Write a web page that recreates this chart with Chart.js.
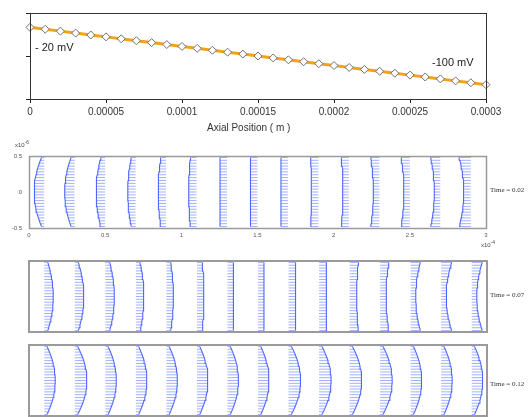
<!DOCTYPE html>
<html>
<head>
<meta charset="utf-8">
<script src="https://cdn.jsdelivr.net/npm/chart.js@4.4.1/dist/chart.umd.min.js"></script>
<style>
  body { margin: 0; width: 530px; height: 417px; overflow: hidden; background: #fff; position: relative;
         font-family: "Liberation Sans", Arial, sans-serif; }
  canvas { position: absolute; left: 0; }
  .lbl { position: absolute; white-space: nowrap; color: #222; line-height: 1; }
  .time { position: absolute; left: 490px; white-space: nowrap; line-height: 1; color: #333;
          font: 7px "Liberation Serif", serif; }
  sup { font-size: 0.8em; vertical-align: 0.6em; line-height: 0; }
</style>
</head>
<body>
<canvas id="potChart" width="530" height="140" style="top:0"></canvas>
<canvas id="q1" width="530" height="110" style="top:140px"></canvas>
<canvas id="q2" width="530" height="85" style="top:250px"></canvas>
<canvas id="q3" width="530" height="82" style="top:335px"></canvas>

<div class="lbl" style="left:35px;top:42px;font-size:11px">- 20 mV</div>
<div class="lbl" style="left:432px;top:57px;font-size:11px">-100 mV</div>
<div class="lbl" style="left:207px;top:123px;font-size:10px;color:#333">Axial Position ( m )</div>
<div class="lbl" style="left:15px;top:142px;font-size:6px;color:#444">x10<sup>-6</sup></div>
<div class="lbl" style="left:481px;top:242px;font-size:6px;color:#444">x10<sup>-4</sup></div>
<div class="time" style="top:186px">Time = 0.02</div>
<div class="time" style="top:291px">Time = 0.07</div>
<div class="time" style="top:380px">Time = 0.12</div>

<script>
// potential along the channel
const axialPos = [0, 0.00001, 0.00002, 0.00003, 0.00004, 0.00005, 0.00006, 0.00007, 0.00008, 0.00009,
  0.0001, 0.00011, 0.00012, 0.00013, 0.00014, 0.00015, 0.00016, 0.00017, 0.00018, 0.00019,
  0.0002, 0.00021, 0.00022, 0.00023, 0.00024, 0.00025, 0.00026, 0.00027, 0.00028, 0.00029, 0.0003];
const potential = [-20, -22.7, -25.3, -28, -30.7, -33.3, -36, -38.7, -41.3, -44,
  -46.7, -49.3, -52, -54.7, -57.3, -60, -62.7, -65.3, -68, -70.7,
  -73.3, -76, -78.7, -81.3, -84, -86.7, -89.3, -92, -94.7, -97.3, -100];
const potTicks = [0, 0.00005, 0.0001, 0.00015, 0.0002, 0.00025, 0.0003];

// velocity field: grid columns (x10^-4 m) and rows (x10^-6 m)
const columnX = [0.1, 0.3, 0.5, 0.7, 0.9, 1.1, 1.3, 1.5, 1.7, 1.9, 2.1, 2.3, 2.5, 2.7, 2.9];
const rowY = [-0.48, -0.44, -0.40, -0.36, -0.32, -0.28, -0.24, -0.20, -0.16, -0.12, -0.08, -0.04, 0,
  0.04, 0.08, 0.12, 0.16, 0.20, 0.24, 0.28, 0.32, 0.36, 0.40, 0.44, 0.48];
const rowShape = [0.08, 0.23, 0.36, 0.48, 0.59, 0.69, 0.77, 0.84, 0.90, 0.94, 0.97, 0.99, 1,
  0.99, 0.97, 0.94, 0.90, 0.84, 0.77, 0.69, 0.59, 0.48, 0.36, 0.23, 0.08];

// arrow length on the centre line and at the wall, per column
const centreT002 = [-0.066, -0.066, -0.059, -0.052, -0.052, -0.052, -0.046, -0.046, -0.046, -0.046, -0.039, -0.039, -0.039, -0.039, -0.046];
const wallT002   = [-0.013, -0.020, -0.026, -0.026, -0.033, -0.039, -0.046, -0.046, -0.046, -0.052, -0.052, -0.059, -0.059, -0.066, -0.079];
const centreT007 = [0.059, 0.059, 0.059, 0.052, 0.046, 0.046, 0.039, 0.039, 0.046, 0.046, 0.046, 0.039, 0.033, 0.033, 0.033];
const wallT007   = [0.020, 0.020, 0.026, 0.026, 0.026, 0.033, 0.039, 0.039, 0.046, 0.052, 0.059, 0.059, 0.066, 0.072, 0.072];
const centreT012 = [0.072, 0.079, 0.072, 0.072, 0.072, 0.072, 0.072, 0.072, 0.079, 0.079, 0.079, 0.079, 0.072, 0.072, 0.072];
const wallT012   = [0.013, 0.013, 0.013, 0.013, 0.013, 0.013, 0.013, 0.013, 0.013, 0.013, 0.013, 0.013, 0.013, 0.013, 0.013];

const qxTicks = [0, 0.5, 1, 1.5, 2, 2.5, 3];
const qyTicks = [-0.5, 0, 0.5];

// box round the plot area
const framePlugin = {
  id: "frame",
  afterDatasetsDraw(chart, args, opts) {
    const a = chart.chartArea, ctx = chart.ctx;
    ctx.save();
    ctx.strokeStyle = opts.color || "#333";
    ctx.lineWidth = opts.width || 1;
    const o = (opts.width || 1) % 2 ? 0.5 : 0;
    ctx.strokeRect(Math.round(a.left) + o, Math.round(a.top) + o,
                   Math.round(a.right - a.left), Math.round(a.bottom - a.top));
    ctx.restore();
  }
};
Chart.register(framePlugin);

// top: potential line
new Chart(document.getElementById("potChart"), {
  type: "line",
  data: {
    datasets: [{
      data: axialPos.map((x, i) => ({ x: x, y: potential[i] })),
      borderColor: "#f5a11c",
      borderWidth: 3,
      pointStyle: "rectRot",
      pointRadius: 4,
      pointBackgroundColor: "#fff",
      pointBorderColor: "#707070",
      pointBorderWidth: 1,
      clip: false
    }]
  },
  options: {
    responsive: false,
    animation: false,
    layout: { padding: { top: 13, right: 44, left: 0, bottom: 0 } },
    plugins: { legend: { display: false }, tooltip: { enabled: false }, frame: { color: "#333", width: 1 } },
    scales: {
      x: {
        type: "linear", min: 0, max: 0.0003,
        afterBuildTicks: s => { s.ticks = potTicks.map(v => ({ value: v })); },
        afterFit: s => { s.height = 41; },
        grid: { drawOnChartArea: false, drawTicks: true, tickLength: 4, color: "#222" },
        border: { color: "#222" },
        ticks: { padding: 3, color: "#333", font: { family: "Liberation Sans", size: 10 },
                 callback: v => String(+v.toFixed(6)) }
      },
      y: {
        min: -120, max: 0,
        afterBuildTicks: s => { s.ticks = [-120, -60, 0].map(v => ({ value: v })); },
        afterFit: s => { s.width = 30; },
        grid: { drawOnChartArea: false, drawTicks: true, tickLength: 4, color: "#222" },
        border: { color: "#222" },
        ticks: { display: false }
      }
    }
  }
});

function quiverSets(centre, wall) {
  const bars = [], tips = [];
  columnX.forEach((x0, i) => {
    rowY.forEach((y, j) => {
      const tip = x0 + wall[i] + (centre[i] - wall[i]) * rowShape[j];
      bars.push({ x: x0, y: y }, { x: tip, y: y }, { x: null, y: null });
      tips.push({ x: tip, y: y });
    });
    tips.push({ x: null, y: null });
  });
  return [
    { data: bars, showLine: true, borderColor: "rgba(70,100,255,0.5)", borderWidth: 1, pointRadius: 0, spanGaps: false },
    { data: tips, showLine: true, borderColor: "rgba(35,65,255,0.8)", borderWidth: 1.1, pointRadius: 0, spanGaps: false }
  ];
}

function quiverChart(id, centre, wall, pad, showAxes, frameWidth) {
  const xAxis = {
    type: "linear", min: 0, max: 3, display: showAxes,
    afterBuildTicks: s => { s.ticks = qxTicks.map(v => ({ value: v })); },
    grid: { display: false, drawTicks: false },
    border: { display: false },
    ticks: { padding: 4, color: "#555", font: { family: "Liberation Sans", size: 6 }, callback: v => String(v) }
  };
  const yAxis = {
    min: -0.5, max: 0.5, display: showAxes,
    afterBuildTicks: s => { s.ticks = qyTicks.map(v => ({ value: v })); },
    grid: { display: false, drawTicks: false },
    border: { display: false },
    ticks: { padding: 7, color: "#555", font: { family: "Liberation Sans", size: 6 }, callback: v => String(v) }
  };
  if (showAxes) {
    xAxis.afterFit = s => { s.height = 22; };
    yAxis.afterFit = s => { s.width = 29; };
  }
  new Chart(document.getElementById(id), {
    type: "scatter",
    data: { datasets: quiverSets(centre, wall) },
    options: {
      responsive: false,
      animation: false,
      layout: { padding: pad },
      plugins: { legend: { display: false }, tooltip: { enabled: false }, frame: { color: "#9a9a9a", width: frameWidth } },
      scales: { x: xAxis, y: yAxis }
    }
  });
}

quiverChart("q1", centreT002, wallT002, { top: 16, right: 44, left: 0, bottom: 0 }, true, 1.5);
quiverChart("q2", centreT007, wallT007, { top: 11, right: 43, left: 29, bottom: 3 }, false, 2);
quiverChart("q3", centreT012, wallT012, { top: 10, right: 43, left: 29, bottom: 1 }, false, 2);
</script>
</body>
</html>
